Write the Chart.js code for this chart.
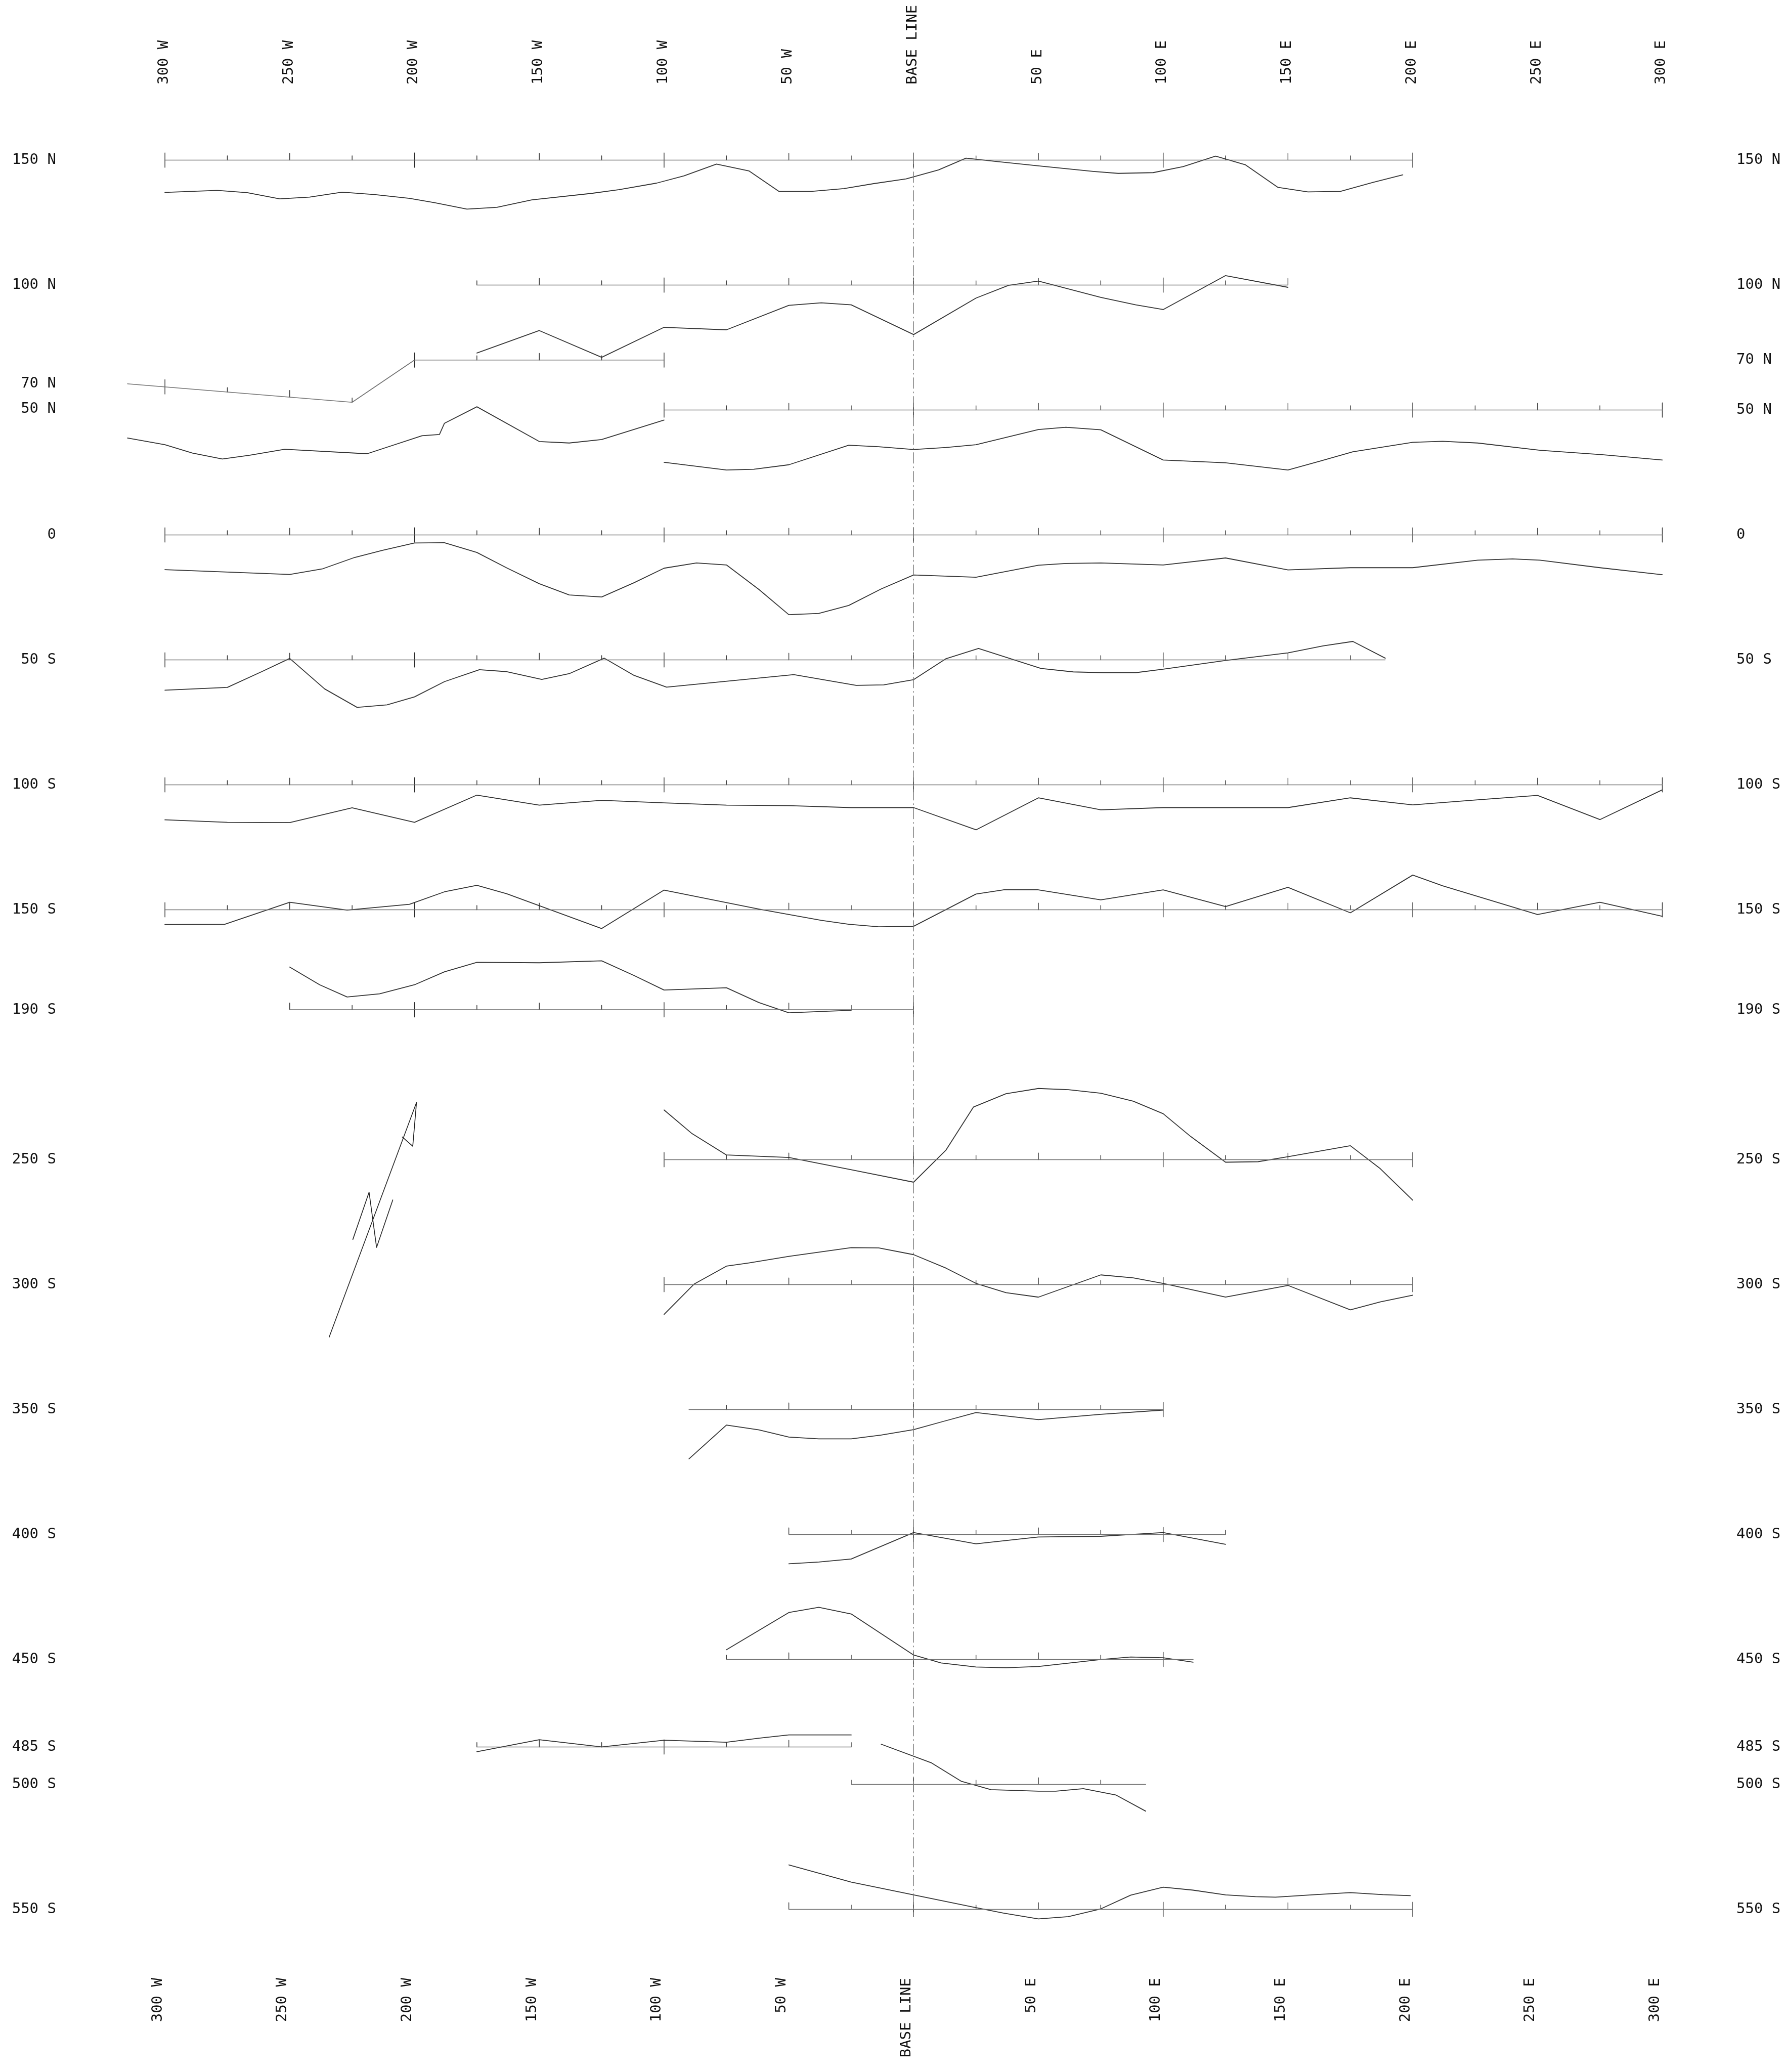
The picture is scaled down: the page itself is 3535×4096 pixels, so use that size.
<!DOCTYPE html>
<html>
<head>
<meta charset="utf-8">
<script src="https://cdn.jsdelivr.net/npm/chart.js@4/dist/chart.umd.min.js"></script>
<style>
html, body { margin: 0; padding: 0; background: #ffffff; }
#wrap { width: 3535px; height: 4096px; }
</style>
</head>
<body>
<div id="wrap"><canvas id="c" width="3535" height="4096"></canvas></div>
<script>
// ---- grid stations (east positive, west negative) ----
const xTickValues = [-300, -250, -200, -150, -100, -50, 0, 50, 100, 150, 200, 250, 300];

// line labels, left and right margins
const leftTickValues = [150, 100, 60.5, 50.5, 0, -50, -100, -150, -190, -250, -300, -350, -400, -450, -485, -500, -550];
const leftTickLabels = ['150 N', '100 N', '70 N', '50 N', '0', '50 S', '100 S', '150 S', '190 S', '250 S', '300 S', '350 S', '400 S', '450 S', '485 S', '500 S', '550 S'];
const rightTickValues = [150, 100, 70, 50, 0, -50, -100, -150, -190, -250, -300, -350, -400, -450, -485, -500, -550];
const rightTickLabels = ['150 N', '100 N', '70 N', '50 N', '0', '50 S', '100 S', '150 S', '190 S', '250 S', '300 S', '350 S', '400 S', '450 S', '485 S', '500 S', '550 S'];

// ---- survey lines: northing, first and last station ----
const lineNorth = [150, 100, 50, 0, -50, -100, -150, -190, -250, -300, -350, -400, -450, -485, -500, -550];
const lineFrom  = [-300, -175, -100, -300, -300, -300, -300, -250, -100, -100, -90, -50, -75, -175, -25, -50];
const lineTo    = [200, 150, 300, 300, 189, 300, 300, 0, 200, 200, 100, 125, 112, -25, 93, 200];
// line 70 N, plotted with an offset western leg
const line70Stations = [-315, -225, -200, -100];
const line70North    = [60.5, 53.1, 70, 70];

// ---- profiles: stations and readings (grid units from the line) ----
const st150N = [-300, -279, -267, -254, -242, -229, -216, -202, -192, -179, -167, -153, -129, -118, -103, -92, -79, -66, -54, -41, -28, -16, -3, 10, 21, 32, 50, 72, 82, 96, 108, 121, 133, 146, 158, 171, 184, 196];
const rd150N = [-12.9, -12.1, -13.0, -15.5, -14.8, -12.8, -13.8, -15.3, -17.0, -19.6, -18.9, -15.9, -13.3, -11.8, -9.2, -6.3, -1.6, -4.3, -12.5, -12.5, -11.4, -9.4, -7.5, -3.9, 0.8, -0.4, -2.3, -4.5, -5.3, -5.0, -2.6, 1.6, -1.9, -10.9, -12.7, -12.5, -8.9, -5.9];

const st100N = [-175, -150, -125, -100, -75, -50, -37, -25, 0, 25, 38, 50, 75, 89, 100, 125, 150];
const rd100N = [-27.2, -18.2, -28.9, -16.9, -17.9, -8.1, -7.1, -7.9, -19.8, -5.2, -0.1, 1.6, -4.9, -7.9, -9.8, 3.8, -0.9];

const st50NWest = [-315, -300, -289, -277, -266, -252, -219, -197, -190, -188, -175, -150, -138, -125, -100];
const rd50NWest = [-11.2, -13.9, -17.2, -19.6, -18.1, -15.7, -17.5, -10.3, -9.8, -5.3, 1.3, -12.6, -13.2, -11.8, -4.0];
const st50NEast = [-100, -75, -64, -50, -26, -14, 0, 13, 25, 50, 61, 75, 100, 125, 150, 163, 176, 200, 212, 226, 251, 276, 300];
const rd50NEast = [-20.9, -24.0, -23.7, -21.9, -14.1, -14.7, -15.8, -15.0, -13.9, -7.8, -6.9, -7.9, -20.0, -21.1, -24.0, -20.4, -16.7, -12.9, -12.5, -13.2, -16.1, -17.9, -20.0];

const st0 = [-300, -250, -237, -224, -213, -200, -188, -175, -163, -150, -138, -125, -112, -100, -87, -75, -62, -50, -38, -26, -13, 0, 25, 50, 61, 75, 100, 125, 150, 175, 200, 226, 240, 251, 275, 300];
const rd0 = [-13.9, -15.8, -13.6, -9.0, -6.2, -3.2, -3.1, -7.0, -13.2, -19.5, -24.0, -24.8, -19.1, -13.3, -11.2, -12.0, -21.8, -31.9, -31.4, -28.2, -21.6, -16.0, -16.9, -12.1, -11.4, -11.2, -12.0, -9.2, -14.0, -13.1, -13.1, -10.1, -9.6, -10.1, -13.1, -15.9];

const st50S = [-300, -275, -261, -250, -236, -223, -211, -200, -188, -174, -163, -149, -138, -124, -112, -99, -48, -23, -12, 0, 13, 26, 51, 64, 76, 89, 100, 125, 150, 164, 176, 189];
const rd50S = [-12.1, -11.0, -4.6, 0.6, -11.6, -19.0, -18.0, -14.8, -8.7, -3.9, -4.7, -7.8, -5.5, 0.7, -6.2, -10.9, -5.9, -10.2, -10.0, -7.9, 0.5, 4.6, -3.4, -4.8, -5.1, -5.1, -3.7, -0.2, 2.8, 5.6, 7.4, 0.7];

const st100S = [-300, -275, -250, -225, -200, -175, -150, -125, -100, -75, -50, -25, 0, 25, 50, 75, 100, 125, 150, 175, 200, 226, 250, 275, 300];
const rd100S = [-14.0, -15.0, -15.1, -9.2, -15.0, -4.1, -8.1, -6.2, -7.2, -8.1, -8.3, -9.1, -9.1, -18.0, -5.2, -10.0, -9.1, -9.1, -9.1, -5.2, -8.0, -6.0, -4.2, -13.9, -2.0];

const st150S = [-300, -276, -250, -227, -202, -188, -175, -163, -125, -100, -62, -37, -26, -14, 0, 25, 36, 50, 75, 100, 125, 150, 175, 200, 212, 250, 275, 300];
const rd150S = [-5.9, -5.8, 3.0, -0.1, 2.2, 7.2, 9.8, 6.4, -7.5, 7.9, 0.3, -4.2, -5.8, -6.8, -6.6, 6.3, 8.0, 8.0, 4.0, 8.0, 1.3, 9.0, -1.2, 13.9, 9.6, -1.9, 3.0, -2.6];

const st190S = [-250, -238, -227, -214, -200, -188, -175, -150, -125, -112, -100, -75, -62, -50, -25];
const rd190S = [17.1, 10.0, 5.1, 6.4, 10.0, 15.2, 19.0, 18.8, 19.6, 13.7, 7.9, 8.8, 2.9, -1.2, -0.2];

const st250S = [-100, -89, -75, -50, -25, 0, 13, 24, 37, 50, 62, 75, 88, 100, 111, 125, 138, 150, 175, 187, 200];
const rd250S = [19.9, 10.6, 1.9, 0.9, -4.0, -9.0, 3.9, 21.1, 26.4, 28.5, 28.0, 26.6, 23.4, 18.4, 9.3, -1.0, -0.8, 1.2, 5.6, -3.6, -16.2];

const st300S = [-100, -88, -75, -66, -50, -25, -14, 0, 13, 25, 37, 50, 75, 88, 100, 125, 150, 175, 187, 200];
const rd300S = [-11.9, 0.2, 7.4, 8.7, 11.3, 14.8, 14.7, 12.0, 6.6, 0.5, -3.2, -5.0, 3.9, 2.7, 0.5, -5.0, -0.3, -10.1, -6.9, -4.2];

const st350S = [-90, -75, -62, -50, -38, -25, -13, 0, 12, 25, 50, 75, 100];
const rd350S = [-19.7, -6.2, -8.1, -11.0, -11.7, -11.7, -10.2, -8.0, -4.7, -1.2, -4.0, -1.9, -0.2];

const st400S = [-50, -38, -25, 0, 25, 50, 75, 100, 125];
const rd400S = [-11.7, -11.0, -9.8, 0.8, -3.7, -1.0, -0.7, 0.8, -3.9];

const st450S = [-75, -50, -38, -25, 0, 11, 25, 37, 50, 75, 87, 100, 112];
const rd450S = [3.9, 18.8, 20.9, 18.2, 1.8, -1.4, -3.0, -3.3, -2.8, 0.0, 1.0, 0.7, -1.1];

const st485S = [-175, -150, -125, -100, -75, -62, -50, -25];
const rd485S = [-1.9, 2.9, 0.0, 2.7, 1.9, 3.5, 4.8, 4.8];

const st500S = [-13, 7, 19, 31, 50, 57, 68, 81, 93];
const rd500S = [16.1, 8.7, 1.3, -2.1, -2.7, -2.7, -1.7, -4.2, -10.7];

const st550S = [-50, -25, 0, 25, 36, 50, 62, 75, 87, 100, 112, 125, 137, 145, 161, 175, 188, 199];
const rd550S = [17.8, 10.9, 5.8, 0.7, -1.5, -3.8, -2.9, 0.2, 5.7, 8.9, 7.7, 5.8, 5.1, 4.9, 5.9, 6.7, 5.9, 5.5];

// north arrow and its letter N
const arrowEast  = [-234.2, -199.2, -200.7, -204.9];
const arrowNorth = [-321.0, -227.1, -244.6, -240.9];
const letterEast  = [-224.7, -218.2, -215.2, -208.7];
const letterNorth = [-281.9, -263.0, -285.1, -266.1];

// base line (station 0) runs from the first to the last line
const baseLineNorth = [152.9, -552.9];

// ---- drawing helpers ----
const profiles = [
  [150, st150N, rd150N], [100, st100N, rd100N], [50, st50NWest, rd50NWest], [50, st50NEast, rd50NEast],
  [0, st0, rd0], [-50, st50S, rd50S], [-100, st100S, rd100S], [-150, st150S, rd150S], [-190, st190S, rd190S],
  [-250, st250S, rd250S], [-300, st300S, rd300S], [-350, st350S, rd350S], [-400, st400S, rd400S],
  [-450, st450S, rd450S], [-485, st485S, rd485S], [-500, st500S, rd500S], [-550, st550S, rd550S]
];

const TICK_MAJOR = 2.9, TICK_MID = 2.7, TICK_MINOR = 1.75;

function interp(xs, ys, x) {
  for (let i = 0; i < xs.length - 1; i++) {
    if (x >= xs[i] && x <= xs[i + 1]) {
      const t = (x - xs[i]) / (xs[i + 1] - xs[i]);
      return ys[i] + t * (ys[i + 1] - ys[i]);
    }
  }
  return ys[ys.length - 1];
}

function tickPoints(xs, ys) {
  const pts = [];
  const first = Math.ceil(xs[0] / 25) * 25;
  const last = Math.floor(xs[xs.length - 1] / 25) * 25;
  for (let e = first; e <= last; e += 25) {
    const v = interp(xs, ys, e);
    let lo = v, hi;
    if (e % 100 === 0) { lo = v - TICK_MAJOR; hi = v + TICK_MAJOR; }
    else if (e % 50 === 0) { hi = v + TICK_MID; }
    else { hi = v + TICK_MINOR; }
    pts.push({ x: e, y: lo }, { x: e, y: hi }, { x: e, y: null });
  }
  return pts;
}

const common = { type: 'line', pointRadius: 0, fill: false, tension: 0, spanGaps: false, borderCapStyle: 'round', borderJoinStyle: 'round' };
const datasets = [];

// base line
datasets.push(Object.assign({}, common, {
  data: baseLineNorth.map(v => ({ x: 0, y: v })),
  borderColor: '#777777', borderWidth: 1.4, borderDash: [22, 6, 3, 6], borderCapStyle: 'butt'
}));

// survey lines with station ticks
lineNorth.forEach((v, i) => {
  const xs = [lineFrom[i], lineTo[i]], ys = [v, v];
  datasets.push(Object.assign({}, common, { data: xs.map((x, k) => ({ x, y: ys[k] })), borderColor: '#707070', borderWidth: 1.6 }));
  datasets.push(Object.assign({}, common, { data: tickPoints(xs, ys), borderColor: '#2a2a2a', borderWidth: 1.4 }));
});
datasets.push(Object.assign({}, common, { data: line70Stations.map((x, k) => ({ x, y: line70North[k] })), borderColor: '#707070', borderWidth: 1.6 }));
datasets.push(Object.assign({}, common, { data: tickPoints(line70Stations, line70North), borderColor: '#2a2a2a', borderWidth: 1.4 }));

// profiles
profiles.forEach(([base, xs, rs]) => {
  datasets.push(Object.assign({}, common, {
    data: xs.map((x, k) => ({ x, y: base + rs[k] })),
    borderColor: '#333333', borderWidth: 1.8
  }));
});

// north arrow
datasets.push(Object.assign({}, common, { data: arrowEast.map((x, k) => ({ x, y: arrowNorth[k] })), borderColor: '#222222', borderWidth: 1.6 }));
datasets.push(Object.assign({}, common, { data: letterEast.map((x, k) => ({ x, y: letterNorth[k] })), borderColor: '#222222', borderWidth: 1.6 }));

// ---- axes ----
const labelFont = { family: 'DejaVu Sans Mono', size: 29 };
function stationLabel(v) {
  if (v === 0) return 'BASE LINE';
  return v < 0 ? (-v) + ' W' : v + ' E';
}
function xAxis(position, height, shift) {
  return {
    type: 'linear', position, min: -341.57, max: 327.67,
    grid: { display: false, drawTicks: false }, border: { display: false },
    ticks: { autoSkip: false, minRotation: 90, maxRotation: 90, padding: 10, labelOffset: shift,
             font: labelFont, color: '#111111', callback: v => stationLabel(v) },
    afterBuildTicks: s => { s.ticks = xTickValues.map(v => ({ value: v })); },
    afterFit: s => { s.height = height; }
  };
}
function yAxis(position, width, values, labels) {
  return {
    type: 'linear', position, min: -575.4, max: 178.25,
    grid: { display: false, drawTicks: false }, border: { display: false },
    ticks: { autoSkip: false, padding: 10, font: labelFont, color: '#111111',
             callback: (v, i) => labels[i] },
    afterBuildTicks: s => { s.ticks = values.map(v => ({ value: v })); },
    afterFit: s => { s.width = width; }
  };
}

new Chart(document.getElementById('c'), {
  type: 'line',
  data: { datasets },
  options: {
    responsive: false, animation: false, devicePixelRatio: 1, events: [],
    layout: { padding: 0 },
    plugins: { legend: { display: false }, tooltip: { enabled: false } },
    scales: {
      x: xAxis('bottom', 196, -14),
      xTop: xAxis('top', 177, 33),
      y: yAxis('left', 121, leftTickValues, leftTickLabels),
      yRight: yAxis('right', 112, rightTickValues, rightTickLabels)
    }
  }
});
</script>
</body>
</html>
